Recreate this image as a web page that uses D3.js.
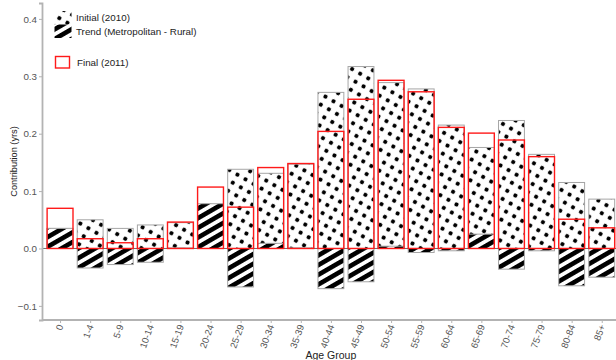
<!DOCTYPE html>
<html>
<head>
<meta charset="utf-8">
<script src="https://cdn.jsdelivr.net/npm/d3@7"></script>
<style>
  html, body { margin: 0; padding: 0; background: #fff; }
  svg { display: block; font-family: "Liberation Sans", Arial, sans-serif; }
</style>
</head>
<body>
<svg id="chart" width="616" height="360"></svg>
<script>
const categories = ["0","1-4","5-9","10-14","15-19","20-24","25-29","30-34","35-39","40-44","45-49","50-54","55-59","60-64","65-69","70-74","75-79","80-84","85+"];
const initial2010 = [0.035, 0.050, 0.035, 0.041, 0.045, 0.029, 0.138, 0.131, 0.147, 0.272, 0.317, 0.289, 0.278, 0.215, 0.176, 0.223, 0.164, 0.115, 0.086];
const trend = [0.035, -0.034, -0.028, -0.024, 0.001, 0.078, -0.067, 0.009, 0.001, -0.070, -0.058, 0.004, -0.007, -0.004, 0.025, -0.036, -0.004, -0.065, -0.050];
const final2011 = [0.070, 0.017, 0.010, 0.017, 0.046, 0.107, 0.072, 0.141, 0.148, 0.204, 0.260, 0.293, 0.273, 0.211, 0.201, 0.189, 0.160, 0.051, 0.036];
const yTicks = [-0.1, 0.0, 0.1, 0.2, 0.3, 0.4];
const legendLabels = ["Initial (2010)", "Trend (Metropolitan - Rural)", "Final (2011)"];
const xTitle = "Age Group";
const yTitle = "Contribution (yrs)";

(function () {
const svg = d3.select("#chart");
const defs = svg.append("defs");

const ds = 9.3;
const dots = defs.append("pattern").attr("id", "dots")
  .attr("patternUnits", "userSpaceOnUse").attr("width", ds).attr("height", ds)
  .attr("patternTransform", "rotate(30)");
dots.append("rect").attr("width", ds).attr("height", ds).attr("fill", "#fff");
dots.append("circle").attr("cx", ds / 2).attr("cy", ds / 2).attr("r", 2.1).attr("fill", "#000");

const ss = 8.4;
const stripes = defs.append("pattern").attr("id", "stripes")
  .attr("patternUnits", "userSpaceOnUse").attr("width", ss).attr("height", ss)
  .attr("patternTransform", "rotate(-30)");
stripes.append("rect").attr("width", ss).attr("height", ss).attr("fill", "#fff");
stripes.append("rect").attr("width", ss).attr("height", ss * 0.55).attr("fill", "#000");

const pLeft = 42, pRight = 619.8, pTop = 3, pBottom = 320;
const x = d3.scalePoint().domain(categories).range([pLeft, pRight]).padding(0.6);
const y = d3.scaleLinear().domain([-0.1246, 0.4277]).range([pBottom, pTop]);
const bw = x.step() * 0.86;

const rows = categories.map((c, i) => ({c, ini: initial2010[i], tr: trend[i], fin: final2011[i]}));

function barY(v) { return Math.min(y(v), y(0)); }
function barH(v) { return Math.abs(y(v) - y(0)); }

const g = svg.append("g");
g.selectAll("rect.ini").data(rows).join("rect").attr("class", "ini")
  .attr("x", d => x(d.c) - bw / 2).attr("width", bw)
  .attr("y", d => barY(d.ini)).attr("height", d => barH(d.ini))
  .attr("fill", "url(#dots)").attr("stroke", "#a6a6a6").attr("stroke-width", 1);

g.selectAll("rect.tr").data(rows).join("rect").attr("class", "tr")
  .attr("x", d => x(d.c) - bw / 2).attr("width", bw)
  .attr("y", d => barY(d.tr)).attr("height", d => barH(d.tr))
  .attr("fill", "url(#stripes)").attr("stroke", "#a6a6a6").attr("stroke-width", 1);

g.append("line").attr("x1", pLeft).attr("x2", 616).attr("y1", y(0)).attr("y2", y(0))
  .attr("stroke", "#444").attr("stroke-width", 0.8);

g.selectAll("rect.fin").data(rows).join("rect").attr("class", "fin")
  .attr("x", d => x(d.c) - bw / 2).attr("width", bw)
  .attr("y", d => barY(d.fin)).attr("height", d => barH(d.fin))
  .attr("fill", "none").attr("stroke", "#ff1a1a").attr("stroke-width", 1.4);

// Axes
const yAxis = svg.append("g").attr("transform", `translate(${pLeft},0)`)
  .call(d3.axisLeft(y).tickValues(yTicks).tickFormat(d3.format(".1f")).tickSize(3).tickPadding(2));
yAxis.select(".domain").attr("stroke", "#b3b3b3").attr("stroke-width", 1.8);
yAxis.selectAll(".tick line").attr("stroke", "#b3b3b3");
yAxis.selectAll(".tick text").attr("fill", "#555").attr("font-size", 9.8)
  .attr("font-family", "Liberation Sans, Arial, sans-serif");

const xAxis = svg.append("g").attr("transform", `translate(0,${pBottom})`)
  .call(d3.axisBottom(x).tickSize(3).tickSizeOuter(0));
xAxis.select(".domain").attr("stroke", "#b3b3b3").attr("stroke-width", 1.8)
  .attr("d", `M${pLeft},0H${616}`);
xAxis.selectAll(".tick line").attr("stroke", "#b3b3b3");
xAxis.selectAll(".tick text").attr("fill", "#555").attr("font-size", 9.5)
  .attr("font-family", "Liberation Sans, Arial, sans-serif")
  .attr("text-anchor", "end").attr("dy", "0.35em")
  .attr("transform", "translate(0,5) rotate(-70)").attr("y", 0).attr("x", 0);

svg.append("text").attr("x", (pLeft + pRight) / 2).attr("y", 359)
  .attr("text-anchor", "middle").attr("font-size", 10.5).attr("fill", "#222").text(xTitle);
svg.append("text").attr("transform", `translate(16.5,${(pTop + pBottom) / 2}) rotate(-90)`)
  .attr("text-anchor", "middle").attr("font-size", 9.2).attr("fill", "#222").text(yTitle);

// Legend
const lg = svg.append("g");
lg.append("rect").attr("x", 54.5).attr("y", 11).attr("width", 17).attr("height", 13.5).attr("fill", "url(#dots)");
lg.append("rect").attr("x", 54.5).attr("y", 24.5).attr("width", 17).attr("height", 13.5).attr("fill", "url(#stripes)");
lg.append("rect").attr("x", 55.5).attr("y", 56.5).attr("width", 14).attr("height", 11.5)
  .attr("fill", "none").attr("stroke", "#ff1a1a").attr("stroke-width", 1.4);
const lt = [[76, 17.5], [76, 32], [77, 62.5]];
legendLabels.forEach((t, i) => {
  lg.append("text").attr("x", lt[i][0]).attr("y", lt[i][1]).attr("dy", "0.35em")
    .attr("font-size", 9.8).attr("fill", "#222").text(t);
});
})();
</script>
</body>
</html>
